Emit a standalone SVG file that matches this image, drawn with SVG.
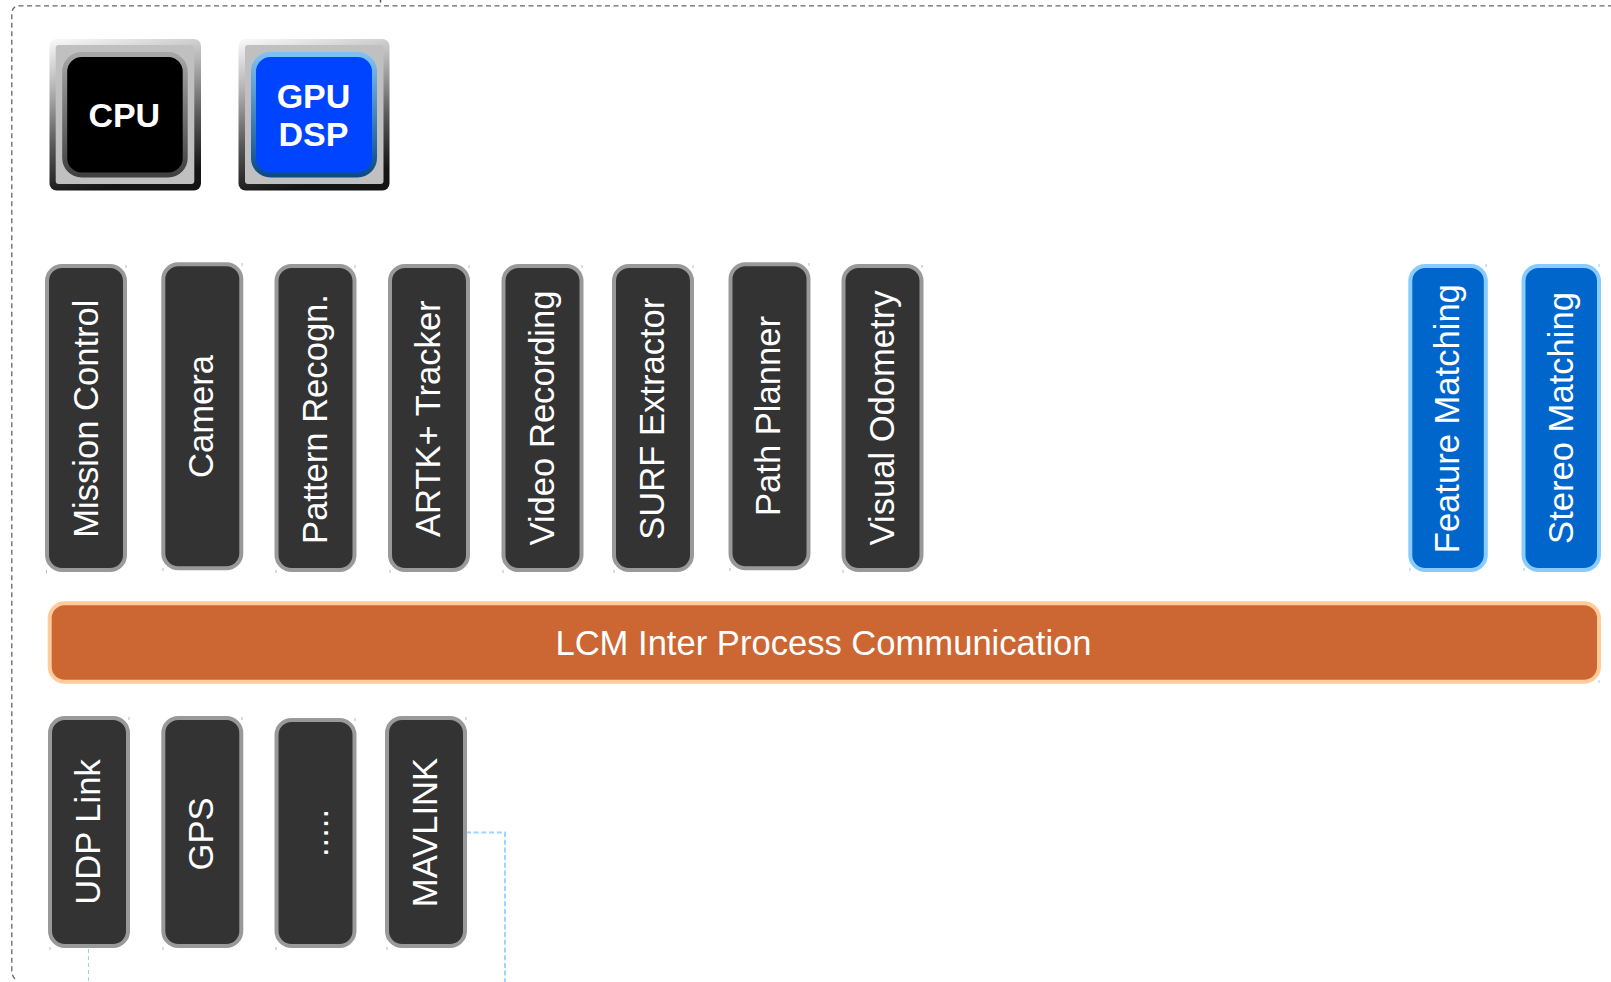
<svg xmlns="http://www.w3.org/2000/svg" width="1611" height="982" viewBox="0 0 1611 982">
<style>
text{font-family:"Liberation Sans",Arial,sans-serif;fill:#fff}
.l{font-size:34.6px;text-anchor:middle}
.b{font-size:34px;font-weight:bold;text-anchor:middle}
.d{fill:#333;stroke:#999;stroke-width:4}
.c{fill:#06c;stroke:#8cf;stroke-width:4}
.o{fill:#c63;stroke:#fc9;stroke-width:4}
.t{stroke:#bbb;stroke-width:1;fill:none}
.tb{stroke:#9cf;stroke-width:1;fill:none}
.bev{fill:#c0c0c0}
</style>
<defs>
<linearGradient id="frame" x1="0.1" y1="0" x2="0.3" y2="1"><stop offset="0" stop-color="#f6f6f6"/><stop offset=".3" stop-color="#b4b4b4"/><stop offset=".65" stop-color="#5a5a5a"/><stop offset="1" stop-color="#141414"/></linearGradient>
<linearGradient id="rg" x1="0" y1="0" x2="0" y2="1"><stop offset="0" stop-color="#a6a6a6"/><stop offset="1" stop-color="#404040"/></linearGradient>
<linearGradient id="rb" x1="0" y1="0" x2="0" y2="1"><stop offset="0" stop-color="#7cc0f4"/><stop offset="1" stop-color="#0c4a88"/></linearGradient>
</defs>
<g id="connectors" fill="none">
<path d="M15 979 Q11.800 976 11.800 970 V14 Q11.800 5.800 20 5.800 H1611" stroke="#666" stroke-width="1.300" stroke-dasharray="5 3.500"/>
<path d="M380.500 0V2.500" stroke="#555" stroke-width="1.500"/>
<path d="M466 832.500H505V982" stroke="#9bd6ff" stroke-width="2" stroke-dasharray="5 2.700"/>
<path d="M88.500 949V982" stroke="#9cf" stroke-width="1" stroke-dasharray="4 3"/>
</g>
<g id="cpu">
<rect x="49.500" y="39" width="151.500" height="151.500" rx="7" fill="url(#frame)"/>
<rect x="55.700" y="45" width="138.600" height="139" rx="3" class="bev"/>
<rect x="64.700" y="54.500" width="120.500" height="120.500" rx="17" fill="#000" stroke="url(#rg)" stroke-width="5"/>
<text class="b" x="124.300" y="126.700">CPU</text>
</g>
<g id="gpu-dsp">
<rect x="238.500" y="39" width="151" height="151.500" rx="7" fill="url(#frame)"/>
<rect x="245" y="45" width="138.500" height="139" rx="3" class="bev"/>
<rect x="253.500" y="54.500" width="121" height="120.500" rx="17" fill="#04f" stroke="url(#rb)" stroke-width="5"/>
<text class="b" x="313.500" y="107.500">GPU</text>
<text class="b" x="313.500" y="145.700">DSP</text>
</g>
<g id="mission-control"><rect class="d" x="47" y="266" width="78" height="304" rx="15"/><path class="t" d="M126 265v3M46.500 570v3"/><text class="l" transform="translate(98 418.700) rotate(-90)">Mission Control</text></g>
<g id="camera"><rect class="d" x="163.300" y="264.300" width="78" height="304" rx="15"/><path class="t" d="M242 263v3M163 568v3"/><text class="l" transform="translate(213 416.500) rotate(-90)">Camera</text></g>
<g id="pattern-recogn"><rect class="d" x="276.500" y="266" width="78" height="304" rx="15"/><path class="t" d="M355 265v3M276 570v3"/><text class="l" transform="translate(326.500 419) rotate(-90)">Pattern Recogn.</text></g>
<g id="artk-tracker"><rect class="d" x="390" y="266" width="78" height="304" rx="15"/><path class="t" d="M469 265v3M390 570v3"/><text class="l" transform="translate(440 418.700) rotate(-90)">ARTK+ Tracker</text></g>
<g id="video-recording"><rect class="d" x="503.500" y="266" width="78" height="304" rx="15"/><path class="t" d="M582 265v3M503 570v3"/><text class="l" transform="translate(553.500 418) rotate(-90)">Video Recording</text></g>
<g id="surf-extractor"><rect class="d" x="614" y="266" width="78" height="304" rx="15"/><path class="t" d="M693 265v3M614 570v3"/><text class="l" transform="translate(664 418.700) rotate(-90)">SURF Extractor</text></g>
<g id="path-planner"><rect class="d" x="730.500" y="264.300" width="78" height="304" rx="15"/><path class="t" d="M809 263v3M730 568v3"/><text class="l" transform="translate(780 416) rotate(-90)">Path Planner</text></g>
<g id="visual-odometry"><rect class="d" x="843.500" y="266" width="78" height="304" rx="15"/><path class="t" d="M922 265v3M843 570v3"/><text class="l" transform="translate(893.500 418) rotate(-90)">Visual Odometry</text></g>
<g id="feature-matching"><rect class="c" x="1410.300" y="266" width="75.500" height="304" rx="15"/><path class="tb" d="M1486 264v3M1410 568v3"/><text class="l" transform="translate(1459 418.700) rotate(-90)">Feature Matching</text></g>
<g id="stereo-matching"><rect class="c" x="1523.500" y="266" width="75.500" height="304" rx="15"/><path class="tb" d="M1599 264v3M1524 568v3"/><text class="l" transform="translate(1573 418) rotate(-90)">Stereo Matching</text></g>
<g id="lcm"><rect class="o" x="49.700" y="603.300" width="1549.300" height="78.500" rx="15"/><path class="tb" d="M1599 680v3"/><text class="l" x="823.500" y="655">LCM Inter Process Communication</text></g>
<g id="udp-link"><rect class="d" x="50" y="718" width="78" height="228" rx="15"/><path class="t" d="M129 717v3M50 947v3"/><text class="l" transform="translate(99.500 832) rotate(-90)">UDP Link</text></g>
<g id="gps"><rect class="d" x="163.300" y="718" width="78" height="228" rx="15"/><path class="t" d="M242 717v3M163 947v3"/><text class="l" transform="translate(213 834) rotate(-90)">GPS</text></g>
<g id="ellipsis"><rect class="d" x="276.500" y="720" width="78" height="226" rx="15"/><path class="t" d="M355 718v3M276 947v3"/><text class="l" transform="translate(328 833) rotate(-90)">.....</text></g>
<g id="mavlink"><rect class="d" x="387" y="718" width="78" height="228" rx="15"/><path class="t" d="M466 717v3M387 947v3"/><text class="l" transform="translate(437 832.500) rotate(-90)">MAVLINK</text></g>
</svg>
